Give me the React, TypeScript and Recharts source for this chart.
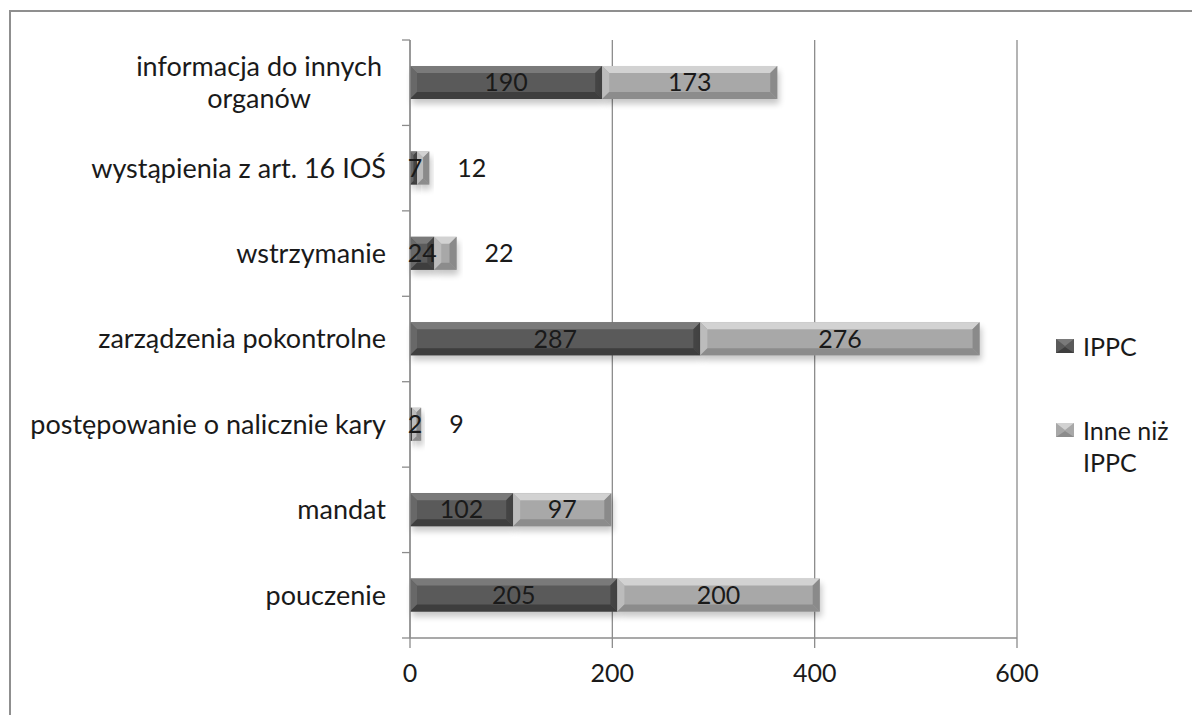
import React from 'react';
import { BarChart, Bar, XAxis, YAxis, CartesianGrid, LabelList } from 'recharts';

const categories = [
  'informacja do innych\norganów',
  'wystąpienia z art. 16 IOŚ',
  'wstrzymanie',
  'zarządzenia pokontrolne',
  'postępowanie o nalicznie kary',
  'mandat',
  'pouczenie',
];
const ippcValues = [190, 7, 24, 287, 2, 102, 205];
const otherValues = [173, 12, 22, 276, 9, 97, 200];
const xTicks = [0, 200, 400, 600];

const seriesNames = { ippc: 'IPPC', other: 'Inne niż IPPC' };

const palette = {
  ippc: { face: '#5a5a5a', top: '#7a7a7a', left: '#686868', right: '#444444', bottom: '#3e3e3e' },
  other: { face: '#a8a8a8', top: '#d2d2d2', left: '#bcbcbc', right: '#8a8a8a', bottom: '#8c8c8c' },
};

const data = categories.map((name, i) => ({
  name,
  ippc: ippcValues[i],
  other: otherValues[i],
}));

const FONT = 'Lato, "Open Sans", sans-serif';
const GRID = '#8c8c8c';

const makeBevelBar = (key: 'ippc' | 'other') => (props: any) => {
  const { x, y, width, height } = props;
  if (!width || width <= 0) return <g />;
  const c = palette[key];
  const b = Math.min(7, width / 2, height / 2);
  const fid = `shadow-${key}`;
  return (
    <g>
      <defs>
        <filter id={fid} x="-20%" y="-50%" width="140%" height="200%">
          <feGaussianBlur stdDeviation="3" />
        </filter>
      </defs>
      <rect x={x + 2} y={y + 5} width={width} height={height} fill="#000" opacity={0.22} filter={`url(#${fid})`} />
      <rect x={x} y={y} width={width} height={height} fill={c.face} />
      <polygon points={`${x},${y} ${x + width},${y} ${x + width - b},${y + b} ${x + b},${y + b}`} fill={c.top} />
      <polygon points={`${x},${y} ${x + b},${y + b} ${x + b},${y + height - b} ${x},${y + height}`} fill={c.left} />
      <polygon points={`${x + width},${y} ${x + width},${y + height} ${x + width - b},${y + height - b} ${x + width - b},${y + b}`} fill={c.right} />
      <polygon points={`${x},${y + height} ${x + b},${y + height - b} ${x + width - b},${y + height - b} ${x + width},${y + height}`} fill={c.bottom} />
    </g>
  );
};

const makeValueLabel = (outsideWhenNarrow: boolean) => (props: any) => {
  const { x, y, width, height, value } = props;
  const cy = y + height / 2;
  if (outsideWhenNarrow && width < 45) {
    return (
      <text x={x + width + 28} y={cy} dy="0.35em" textAnchor="start" fontFamily={FONT} fontSize={25} fill="#1a1a1a">
        {value}
      </text>
    );
  }
  return (
    <text x={x + Math.max(width / 2, 5)} y={cy} dy="0.35em" textAnchor="middle" fontFamily={FONT} fontSize={25} fill="#1a1a1a">
      {value}
    </text>
  );
};

const CategoryTick = (props: any) => {
  const { x, y, payload, index } = props;
  const half = payload && payload.offset ? payload.offset : 42.7;
  const axisX = x + 24;
  const lines = String(payload.value).split('\n');
  const lineH = 32;
  const startY = y - ((lines.length - 1) * lineH) / 2;
  const longest = Math.max(...lines.map((l) => l.length));
  const anchorX = lines.length > 1 ? x - (longest * 27 * 0.47) / 2 : x;
  return (
    <g>
      <line x1={axisX - 8} y1={y - half} x2={axisX} y2={y - half} stroke={GRID} strokeWidth={1.3} />
      {index === categories.length - 1 && (
        <line x1={axisX - 8} y1={y + half} x2={axisX} y2={y + half} stroke={GRID} strokeWidth={1.3} />
      )}
      <text x={anchorX} y={startY} dy="0.35em" textAnchor={lines.length > 1 ? 'middle' : 'end'} fontFamily={FONT} fontSize={27} fill="#1a1a1a">
        {lines.map((l, i) => (
          <tspan key={i} x={anchorX} y={startY + i * lineH} dy="0.35em">
            {l}
          </tspan>
        ))}
      </text>
    </g>
  );
};

const LegendIcon = ({ k }: { k: 'ippc' | 'other' }) => {
  const c = palette[k];
  return (
    <svg width={18} height={14} style={{ display: 'block' }}>
      <rect x={0} y={0} width={18} height={14} fill={c.face} />
      <polygon points="0,0 18,0 9,7" fill={c.top} />
      <polygon points="0,14 18,14 9,8" fill={c.bottom} />
    </svg>
  );
};

const ChartLegend = () => (
  <div
    style={{
      position: 'absolute',
      left: 1045,
      top: 318,
      width: 140,
      fontFamily: FONT,
      fontSize: 25,
      color: '#1a1a1a',
    }}
  >
    <div style={{ display: 'flex', alignItems: 'flex-start', marginBottom: 52 }}>
      <div style={{ marginTop: 9, marginRight: 9 }}>
        <LegendIcon k="ippc" />
      </div>
      <div style={{ lineHeight: '32px' }}>{seriesNames.ippc}</div>
    </div>
    <div style={{ display: 'flex', alignItems: 'flex-start' }}>
      <div style={{ marginTop: 9, marginRight: 9 }}>
        <LegendIcon k="other" />
      </div>
      <div style={{ lineHeight: '32px', width: 100 }}>{seriesNames.other}</div>
    </div>
  </div>
);

export default function App() {
  return (
    <div
      style={{
        position: 'absolute',
        left: 9,
        top: 10,
        width: 1183,
        height: 705,
        borderTop: '2px solid #8f8f8f',
        borderLeft: '2px solid #8f8f8f',
        background: '#fff',
      }}
    >
      <BarChart
        width={1181}
        height={703}
        data={data}
        layout="vertical"
        margin={{ top: 28, right: 175, bottom: 17, left: 10 }}
        barSize={33}
      >
        <CartesianGrid horizontal={false} stroke={GRID} strokeWidth={1.3} />
        <XAxis
          type="number"
          domain={[0, 600]}
          ticks={xTicks}
          axisLine={{ stroke: GRID, strokeWidth: 1.3 }}
          tickLine={{ stroke: GRID, strokeWidth: 1.3 }}
          tickSize={10}
          tickMargin={16}
          height={60}
          tick={{ fontFamily: FONT, fontSize: 25, fill: '#1a1a1a' }}
        />
        <YAxis
          type="category"
          dataKey="name"
          width={389}
          axisLine={{ stroke: GRID, strokeWidth: 1.3 }}
          tickLine={false}
          tickSize={8}
          tickMargin={16}
          interval={0}
          tick={<CategoryTick />}
        />
        <Bar dataKey="ippc" name={seriesNames.ippc} stackId="a" shape={makeBevelBar('ippc')} isAnimationActive={false}>
          <LabelList dataKey="ippc" content={makeValueLabel(false)} />
        </Bar>
        <Bar dataKey="other" name={seriesNames.other} stackId="a" shape={makeBevelBar('other')} isAnimationActive={false}>
          <LabelList dataKey="other" content={makeValueLabel(true)} />
        </Bar>
      </BarChart>
      <ChartLegend />
    </div>
  );
}
